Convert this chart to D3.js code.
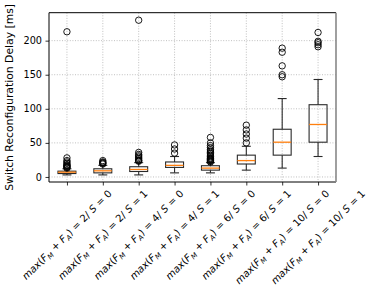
<!DOCTYPE html>
<html>
<head>
<meta charset="utf-8">
<script src="https://cdn.jsdelivr.net/npm/d3@7"></script>
<style>
  body { margin: 0; background: #fff; }
  svg text { font-family: "DejaVu Sans", sans-serif; }
</style>
</head>
<body>
<svg width="374" height="294"></svg>
<script>
// category labels: [F_M+F_A value, S value]
var groups = [["2", "0"], ["2", "1"], ["4", "0"], ["4", "1"], ["6", "0"], ["6", "1"], ["10", "0"], ["10", "1"]];
// box statistics (ms)
var whiskerLow = [3, 3, 3, 6, 6, 10, 13, 30];
var q1 = [5, 6, 8, 14, 10, 19, 32, 51];
var medians = [7, 9, 11, 17, 13, 24, 51, 77];
var q3 = [8.5, 12, 15, 22, 16.5, 32, 70, 106];
var whiskerHigh = [12, 17, 21, 30, 21, 45, 115, 143];
var fliers = [
	[13, 14, 15, 16, 17, 18, 20, 22, 24, 28, 213],
	[19, 20, 21, 22, 24],
	[23, 24, 25, 27, 29, 31, 33, 36, 230],
	[35, 41, 47],
	[22, 23, 24, 25, 26, 27, 28, 30, 32, 34, 36, 38, 40, 43, 46, 50, 58],
	[50, 57, 63, 69, 76],
	[147, 150, 163, 183, 189],
	[191, 194, 197, 199, 212]
];
var yTicks = [0, 50, 100, 150, 200];

var svg = d3.select("svg"),
	margin = { top: 12.7, right: 38, bottom: 112, left: 49 },
	width = +svg.attr("width") - margin.left - margin.right,
	height = +svg.attr("height") - margin.top - margin.bottom;

var x = d3.scaleLinear().domain([0.5, groups.length + 0.5]).range([0, width]),
	y = d3.scaleLinear().domain([-7.4, 241]).range([height, 0]);

var g = svg.append("g").attr("transform", "translate(" + margin.left + "," + margin.top + ")");

var data = groups.map(function(d, i) {
	return { pos: i + 1, lo: whiskerLow[i], q1: q1[i], med: medians[i], q3: q3[i], hi: whiskerHigh[i], fl: fliers[i] };
});

// grid
g.append("g").selectAll("line").data(yTicks).enter().append("line")
	.attr("x1", 0).attr("x2", width)
	.attr("y1", function(d) { return y(d); }).attr("y2", function(d) { return y(d); })
	.attr("stroke", "#b0b0b0").attr("stroke-width", 0.8).attr("stroke-dasharray", "1,1.6");
g.append("g").selectAll("line").data(data).enter().append("line")
	.attr("y1", 0).attr("y2", height)
	.attr("x1", function(d) { return x(d.pos); }).attr("x2", function(d) { return x(d.pos); })
	.attr("stroke", "#b0b0b0").attr("stroke-width", 0.8).attr("stroke-dasharray", "1,1.6");

// axes
var yAxis = g.append("g").call(d3.axisLeft(y).tickValues(yTicks).tickSize(3.5).tickPadding(3.5));
yAxis.select(".domain").remove();
yAxis.selectAll("text").attr("font-size", "9.7px").attr("fill", "#000").attr("font-family", "DejaVu Sans");
yAxis.selectAll("line").attr("stroke", "#000").attr("stroke-width", 0.8);

var xAxis = g.append("g").attr("transform", "translate(0," + height + ")")
	.call(d3.axisBottom(x).tickValues(data.map(function(d) { return d.pos; })).tickSize(3.5).tickFormat(""));
xAxis.select(".domain").remove();
xAxis.selectAll("line").attr("stroke", "#000").attr("stroke-width", 0.8);

// boxes
var box = g.selectAll(".box").data(data).enter().append("g").attr("class", "box");
var bw = x(1.25) - x(1), cw = x(1.125) - x(1);
var edge = "#2a2a2a";

box.append("line").attr("x1", function(d) { return x(d.pos); }).attr("x2", function(d) { return x(d.pos); })
	.attr("y1", function(d) { return y(d.lo); }).attr("y2", function(d) { return y(d.q1); })
	.attr("stroke", edge).attr("stroke-width", 1.1);
box.append("line").attr("x1", function(d) { return x(d.pos); }).attr("x2", function(d) { return x(d.pos); })
	.attr("y1", function(d) { return y(d.q3); }).attr("y2", function(d) { return y(d.hi); })
	.attr("stroke", edge).attr("stroke-width", 1.1);
box.append("line").attr("x1", function(d) { return x(d.pos) - cw; }).attr("x2", function(d) { return x(d.pos) + cw; })
	.attr("y1", function(d) { return y(d.lo); }).attr("y2", function(d) { return y(d.lo); })
	.attr("stroke", edge).attr("stroke-width", 1.1);
box.append("line").attr("x1", function(d) { return x(d.pos) - cw; }).attr("x2", function(d) { return x(d.pos) + cw; })
	.attr("y1", function(d) { return y(d.hi); }).attr("y2", function(d) { return y(d.hi); })
	.attr("stroke", edge).attr("stroke-width", 1.1);
box.append("rect")
	.attr("x", function(d) { return x(d.pos) - bw; })
	.attr("y", function(d) { return y(d.q3); })
	.attr("width", 2 * bw)
	.attr("height", function(d) { return y(d.q1) - y(d.q3); })
	.attr("fill", "none").attr("stroke", edge).attr("stroke-width", 1.1);
box.append("line").attr("x1", function(d) { return x(d.pos) - bw; }).attr("x2", function(d) { return x(d.pos) + bw; })
	.attr("y1", function(d) { return y(d.med); }).attr("y2", function(d) { return y(d.med); })
	.attr("stroke", "#ff7f0e").attr("stroke-width", 1.3);
box.selectAll("circle").data(function(d) { return d.fl.map(function(v) { return { pos: d.pos, v: v }; }); })
	.enter().append("circle")
	.attr("cx", function(d) { return x(d.pos); })
	.attr("cy", function(d) { return y(d.v); })
	.attr("r", 3.2).attr("fill", "none").attr("stroke", "#000").attr("stroke-width", 0.9);

// spines
g.append("line").attr("x1", 0).attr("x2", width).attr("y1", 0).attr("y2", 0).attr("stroke", "#000").attr("stroke-width", 1);
g.append("line").attr("x1", 0).attr("x2", width).attr("y1", height).attr("y2", height).attr("stroke", "#000").attr("stroke-width", 1);
g.append("line").attr("x1", 0).attr("x2", 0).attr("y1", 0).attr("y2", height).attr("stroke", "#000").attr("stroke-width", 1);
g.append("line").attr("x1", width).attr("x2", width).attr("y1", 0).attr("y2", height).attr("stroke", "#888").attr("stroke-width", 1.6);

// rotated category labels, bbox centred under each tick
var fs = 10;
data.forEach(function(d, i) {
	var lab = g.append("text").attr("font-size", fs + "px").attr("fill", "#000").attr("text-anchor", "middle");
	var parts = [
		["max", "i"], ["(", ""], ["F", "i"], ["M", "s"], [" + ", ""], ["F", "i"], ["A", "s"],
		[") = " + groups[i][0] + "/ ", ""], ["S", "i"], [" = " + groups[i][1], ""]
	];
	var prevSub = false;
	parts.forEach(function(p) {
		var t = lab.append("tspan").text(p[0]);
		if (p[1] === "i" || p[1] === "s") t.attr("font-style", "italic");
		if (p[1] === "s") { t.attr("font-size", (fs * 0.7) + "px").attr("dy", 2.3); prevSub = true; }
		else if (prevSub) { t.attr("dy", -2.3); prevSub = false; }
	});
	var L = lab.node().getComputedTextLength();
	var h = fs * 1.05;
	var cy = height + 6 + (L + h) / (2 * Math.SQRT2);
	lab.attr("dy", "0.35em")
		.attr("transform", "translate(" + x(d.pos) + "," + cy + ") rotate(-45)");
});

// y label
svg.append("text")
	.attr("transform", "translate(13," + (margin.top + height / 2) + ") rotate(-90)")
	.attr("text-anchor", "middle").attr("font-size", "10.8px").attr("fill", "#000")
	.text("Switch Reconfiguration Delay [ms]");
</script>
</body>
</html>
